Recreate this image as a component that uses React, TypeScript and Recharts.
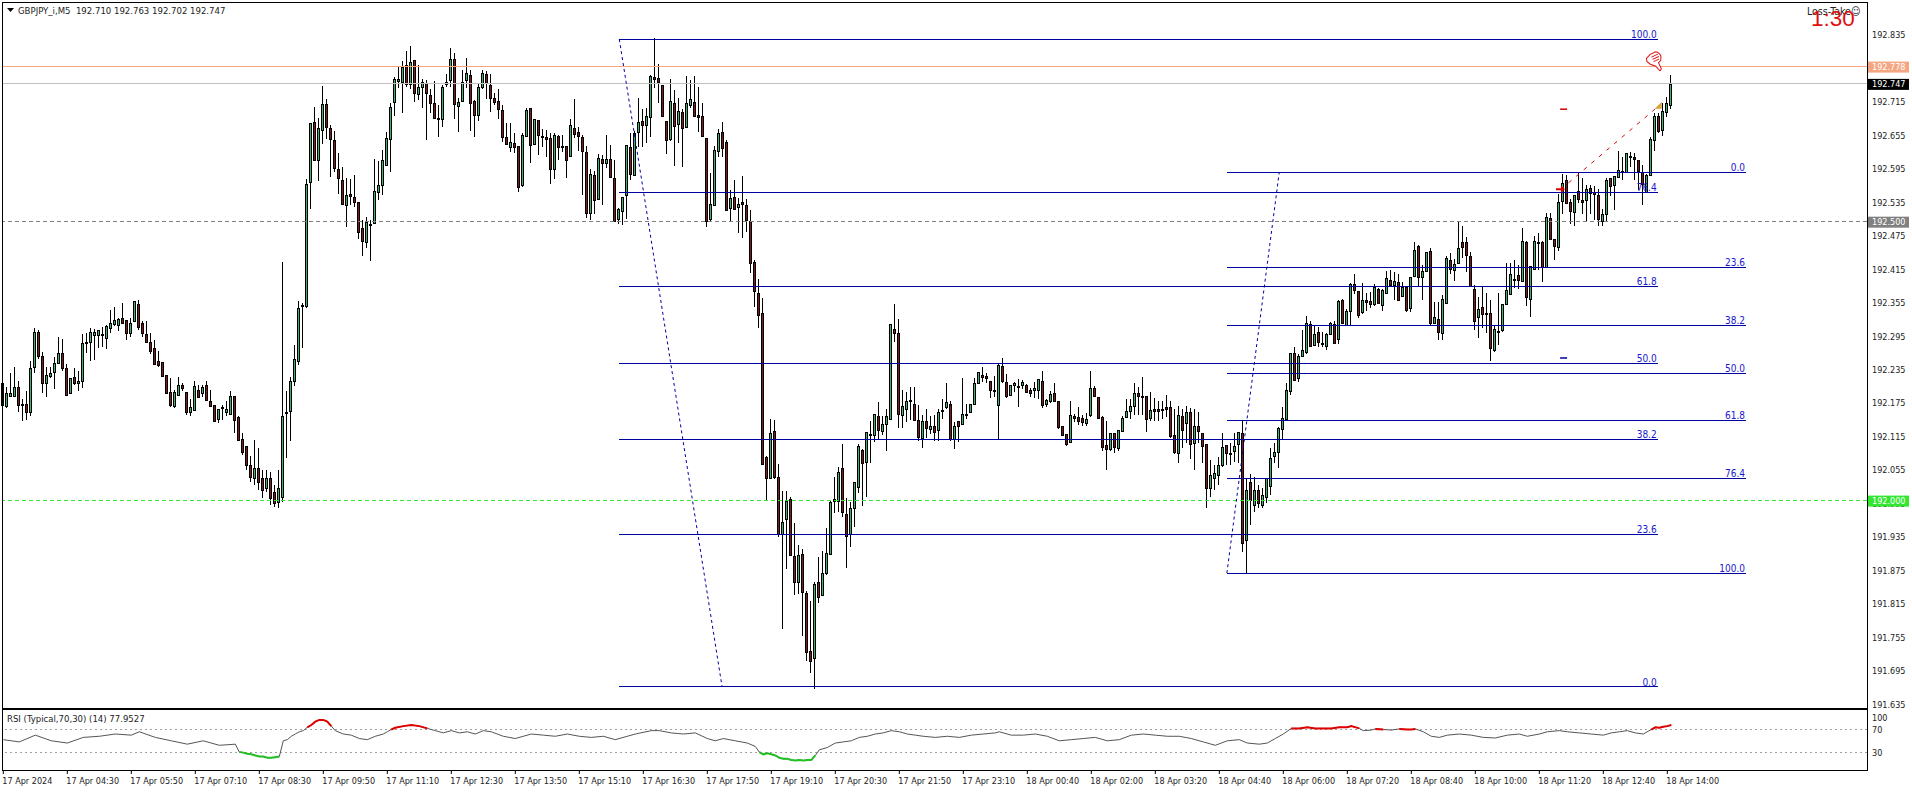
import React from 'react';
import { ComposedChart, Bar, Line, XAxis, YAxis, ReferenceLine, ReferenceDot } from 'recharts';

// Candle rows: [open, high, low, close], in points above 192.000 (1 point = 0.001)
const barsEarly = [[210,219,150,171],[170,203,166,192],[188,228,185,192],[188,239,188,203],[203,214,158,172],[174,183,143,171],[173,196,144,159],[158,251,152,237],[239,309,229,302],[303,306,254,260],[259,266,192,211],[210,239,185,225],[224,239,219,228],[231,257,199,246],[247,293,245,264],[264,290,233,237],[237,244,188,189],[192,220,191,219],[221,237,206,211],[210,232,197,214],[214,299,202,282],[284,300,265,283],[284,309,249,303],[297,307,252,303],[297,306,274,305],[298,311,276,296],[291,315,272,313],[310,342,301,318],[317,347,313,323],[314,328,305,325],[328,354,316,318],[323,323,288,301],[300,328,294,319],[322,357,320,357],[352,359,305,312],[318,322,294,301],[298,322,285,285],[284,300,263,269],[273,287,244,245],[251,268,240,243],[248,248,222,223],[225,225,192,193],[194,219,167,172],[170,199,167,194],[189,221,189,207],[207,210,195,201],[194,194,152,158],[159,183,152,167],[163,214,161,205],[199,207,185,186],[192,207,185,203],[207,214,181,181],[178,198,168,170],[171,171,142,142],[147,165,140,164],[167,171,145,167],[159,178,152,164],[155,196,155,187],[187,187,120,144],[149,151,108,109]];
const barsMorning = [[110,121,82,87],[98,98,55,64],[64,80,33,42],[40,109,28,58],[58,94,19,33],[40,55,5,19],[23,55,16,40],[40,51,-8,5],[15,28,-12,-5],[-3,55,-13,23],[6,428,-3,152],[157,196,76,158],[161,221,107,214],[214,279,205,254],[250,358,243,345],[351,354,273,351],[349,576,345,567],[571,677,522,677],[679,705,611,611],[611,686,573,668],[664,743,639,711],[711,720,648,670],[668,673,580,648],[646,662,589,596],[594,623,549,578],[575,598,530,532],[530,578,490,548],[550,576,530,546],[544,584,526,535],[535,535,469,481],[488,503,438,465],[463,508,453,499],[496,503,429,494],[497,612,497,555],[553,609,539,565],[565,628,548,611],[601,661,600,650],[648,712,589,705],[714,759,689,755],[752,777,739,755],[750,788,695,777],[781,806,741,747],[747,815,738,786],[790,790,714,730],[729,781,718,741],[741,755,703,750],[748,754,646,730],[727,738,695,712],[712,752,684,686],[686,709,651,686],[684,745,669,741],[747,764,741,750],[754,811,741,791],[791,802,684,711],[707,721,660,714],[716,772,714,750],[754,793,739,766],[763,772,662,712],[716,718,651,691],[691,748,680,741]];
const barsMidday = [[741,772,738,766],[764,770,720,748],[745,764,696,721],[721,730,709,714],[716,738,684,702],[700,709,643,652],[652,677,637,639],[634,677,625,643],[641,659,623,634],[635,635,553,562],[565,659,562,655],[653,703,651,700],[703,703,605,637],[639,684,637,684],[682,682,619,655],[653,666,634,653],[652,664,616,648],[650,659,567,594],[594,659,576,655],[653,655,611,634],[635,655,625,635],[635,635,578,610],[618,684,616,673],[668,720,650,657],[661,670,627,653],[652,655,548,627],[625,635,506,515],[515,594,503,585],[583,591,514,539],[541,621,539,614],[612,619,530,605],[605,655,596,612],[612,637,578,580],[578,610,499,501],[505,524,496,523],[519,544,494,544],[548,637,505,637],[634,659,575,585],[583,662,582,659],[661,722,634,679],[680,702,634,673],[673,703,641,689],[687,763,652,761],[759,829,739,755],[757,782,712,750],[745,745,687,689],[680,680,621,646],[648,755,643,716],[712,736,600,671],[675,722,641,698],[696,702,598,668],[670,761,668,712],[709,754,703,720],[714,761,687,689],[691,741,660,687],[689,712,651,653]];
const barsDrop = [[650,650,490,501],[505,587,501,532],[530,635,528,628],[627,666,616,659],[661,678,616,632],[643,646,519,521],[524,557,501,542],[544,574,521,523],[526,542,480,532],[535,582,471,532],[530,541,481,503],[501,521,408,426],[428,431,347,376],[372,397,309,333],[336,363,66,66],[78,80,1,40],[40,146,40,121],[125,145,40,42],[42,66,-64,-60],[-60,17,-230,-38],[-33,17,-123,-1],[3,6,-98,-98],[-99,-40,-169,-146],[-146,-80,-167,-98],[-96,-87,-243,-164],[-166,-162,-287,-271],[-270,-180,-309,-287],[-282,-146,-338,-149],[-146,-101,-184,-173],[-169,-90,-169,-130],[-130,-49,-133,-94],[-96,-1,-98,-3],[-1,42,-22,3],[-1,60,-20,51],[58,101,-29,-20],[-24,5,-121,-64],[-60,-3,-83,-13],[-13,33,-47,33],[24,101,14,98],[91,93,-10,67],[69,123,6,123],[119,143,67,119],[118,155,105,155],[152,177,109,127],[125,152,118,137],[137,164,89,152],[146,317,145,317],[308,352,284,300],[300,326,130,155],[153,198,130,170]];
const barsNight = [[164,195,141,179],[180,204,145,179],[173,204,143,145],[145,171,107,114],[112,153,93,143],[143,164,112,130],[128,152,119,134],[134,153,107,123],[127,164,107,159],[161,182,146,162],[168,211,164,177],[173,179,107,111],[111,141,93,134],[143,143,105,134],[137,220,136,155],[155,173,146,155],[159,173,157,173],[173,220,173,211],[211,231,209,231],[225,240,213,222],[224,229,211,220],[214,214,184,198],[198,224,186,196],[171,245,110,243],[241,256,211,214],[212,227,184,187],[189,207,187,207],[207,213,195,211],[205,218,168,205],[207,216,200,213],[207,209,193,195],[198,202,186,193],[198,213,184,202],[198,218,182,218],[214,232,166,171],[173,182,168,180],[179,196,175,191],[193,211,177,179],[179,179,128,132],[134,134,116,118],[119,119,98,101],[105,179,103,153],[152,155,141,148],[150,168,136,143],[148,153,134,141],[139,157,134,146],[153,232,150,202],[202,205,186,188],[186,186,146,148],[150,152,89,96],[100,143,55,93],[93,121,89,121],[121,121,85,96],[94,127,89,127],[125,152,123,148],[150,182,148,161],[161,182,146,170],[170,211,153,193],[193,204,153,187],[187,221,153,187],[187,187,123,146],[148,195,143,162],[164,184,143,161],[164,179,143,161],[164,179,146,162],[168,189,150,164],[168,179,112,116],[118,164,83,87],[85,170,67,153],[152,164,94,127],[139,170,103,159],[159,166,75,102],[103,164,55,134],[134,159,103,125],[121,121,67,98],[102,102,-12,23],[23,73,6,46],[40,64,19,49],[46,78,28,64],[64,121,60,96],[100,100,64,85],[85,103,64,85],[89,121,69,98],[102,123,67,123],[121,143,-92,-76],[-71,40,-130,19],[33,48,-44,1],[-8,42,-20,19],[19,28,-13,-4],[-8,23,-13,10],[6,40,-4,40],[26,94,10,76]];
const barsRecovery = [[80,103,67,87],[87,132,59,130],[128,168,109,148],[146,211,145,198],[196,264,189,264],[264,275,216,216],[220,263,213,259],[259,306,257,270],[266,331,263,318],[317,322,275,277],[279,313,277,299],[302,311,275,284],[282,302,275,282],[277,300,270,299],[299,320,297,318],[317,322,281,282],[290,360,282,358],[360,361,317,318],[315,343,315,340],[340,390,315,388],[388,406,370,377],[376,376,327,333],[338,390,334,360],[360,372,340,356],[358,374,345,352],[352,388,349,383],[379,381,352,354],[351,379,340,378],[372,412,370,399],[395,413,386,386],[386,410,360,393],[392,406,358,360],[367,392,365,383],[383,383,338,342],[345,401,338,401],[402,463,401,449],[456,458,383,401],[401,422,360,412],[412,446,410,446],[447,453,313,318]];
const barsLate = [[318,356,317,329],[325,356,288,302],[300,368,288,361],[354,438,352,435],[431,444,406,415],[413,433,394,424],[426,499,424,453],[463,492,435,455],[463,472,410,440],[438,445,383,385],[379,386,306,322],[329,365,291,343],[347,383,309,334],[336,372,300,336],[336,360,250,273],[270,315,266,308],[304,372,279,304],[306,352,302,352],[352,426,351,378],[370,426,369,406],[397,431,381,397],[404,422,379,395],[394,488,392,465],[463,465,349,365],[361,420,329,420],[415,474,413,465],[463,480,413,463],[463,465,392,419],[419,515,417,508],[506,515,467,469],[469,469,431,456],[455,549,447,535],[537,585,514,569],[575,584,532,533],[535,541,496,519],[517,548,492,548],[555,589,533,541],[539,578,514,535],[539,566,499,558],[560,566,514,551],[553,564,503,549],[548,558,492,505],[501,523,492,514],[514,578,501,575],[578,578,546,564],[566,582,521,582],[580,627,578,593],[591,616,575,591],[589,623,589,623],[618,625,598,618],[616,623,575,612],[611,611,557,591],[589,601,530,567],[553,585,551,584],[583,652,582,648],[646,695,626,689],[689,695,660,662],[664,712,652,698],[696,723,687,712],[710,763,702,747]];

const priceTicks = [192.835, 192.715, 192.655, 192.595, 192.535, 192.475, 192.415, 192.355, 192.295, 192.235, 192.175, 192.115, 192.055, 191.995, 191.935, 191.875, 191.815, 191.755, 191.695, 191.635];
const tagPrices = [192.778, 192.747, 192.5, 192.0];
const tagLabels = ['192.778', '192.747', '192.500', '192.000'];
const tagColors = ['#F4A582', '#000000', '#808080', '#32E632'];
const timeLabels = ['17 Apr 2024', '17 Apr 04:30', '17 Apr 05:50', '17 Apr 07:10', '17 Apr 08:30', '17 Apr 09:50', '17 Apr 11:10', '17 Apr 12:30', '17 Apr 13:50', '17 Apr 15:10', '17 Apr 16:30', '17 Apr 17:50', '17 Apr 19:10', '17 Apr 20:30', '17 Apr 21:50', '17 Apr 23:10', '18 Apr 00:40', '18 Apr 02:00', '18 Apr 03:20', '18 Apr 04:40', '18 Apr 06:00', '18 Apr 07:20', '18 Apr 08:40', '18 Apr 10:00', '18 Apr 11:20', '18 Apr 12:40', '18 Apr 14:00'];

const fibDownPrices = [192.827, 192.553, 192.384, 192.246, 192.11, 191.94, 191.666];
const fibDownLabels = ['100.0', '76.4', '61.8', '50.0', '38.2', '23.6', '0.0'];
const fibDownBars = [154, 413.6];
const fibUpPrices = [192.589, 192.418, 192.314, 192.228, 192.144, 192.04, 191.87];
const fibUpLabels = ['0.0', '23.6', '38.2', '50.0', '61.8', '76.4', '100.0'];
const fibUpBars = [305.9, 435.7];
const trendDown = [{ x: 154, y: 192.827 }, { x: 179.7, y: 191.666 }];
const trendUp = [{ x: 305.9, y: 191.87 }, { x: 319, y: 192.589 }];
const tradeLine = [{ x: 389.4, y: 192.558 }, { x: 413.6, y: 192.706 }];

// RSI readings at selected bars
const rsiBars = [0,4,8,12,16,20,24,28,32,34,38,42,46,50,54,58,59,60,61,62,63,64,65,66,67,68,69,70,71,72,73,74,75,76,77,78,79,80,81,82,83,85,87,89,91,93,95,96,97,98,100,102,104,106,108,110,112,114,116,118,120,122,125,128,130,132,135,138,141,144,147,150,153,156,158,162,164,167,170,173,176,178,180,183,186,188,189,190,191,192,193,194,195,196,197,198,199,200,201,202,203,204,206,208,210,212,214,216,218,220,222,224,226,228,230,233,236,239,242,245,248,249,252,255,258,261,264,267,270,273,276,279,282,285,288,291,294,297,300,303,306,309,311,314,316,318,320,322,324,326,328,330,332,334,336,337,339,340,342,343,345,347,349,351,352,353,355,357,359,361,364,367,370,373,376,379,381,384,386,389,391,394,397,400,402,404,406,408,410,412,413,414,415,416,417];
const rsiValues = [52,48,60,50,46,56,58,62,60,66,56,50,44,50,42,44,30,29,27,26,24,22,22,20,20,21,22,50,52,58,62,66,68,74,78,84,87,87,84,76,68,62,60,54,52,58,62,66,70,73,76,78,76,72,68,64,68,64,66,62,68,66,58,54,58,62,60,58,62,58,56,58,52,58,62,68,68,64,62,64,54,50,54,50,46,40,30,26,28,26,24,20,18,18,16,15,16,15,16,16,24,34,38,46,48,50,56,58,62,64,68,66,62,60,58,56,58,56,60,62,64,66,60,60,62,58,50,52,54,56,50,52,60,62,60,58,58,54,48,42,50,52,46,44,46,54,62,72,72,74,72,72,72,74,74,76,72,68,69,71,70,69,71,70,70,71,66,58,56,60,62,60,56,55,60,62,58,62,66,68,66,64,62,60,64,66,68,64,62,70,74,73,75,76,77.9527];
const rsiTicks = [100, 70, 30];
const rsiLevels = [70, 30];

const candles = [...barsEarly, ...barsMorning, ...barsMidday, ...barsDrop, ...barsNight, ...barsRecovery, ...barsLate].map(([o, h, l, c], i) => ({
  i, open: 192 + o / 1000, high: 192 + h / 1000, low: 192 + l / 1000, close: 192 + c / 1000,
}));
const rsiRows = rsiBars.map((i, k) => {
  const v = rsiValues[k];
  return { i, rsi: v, over: v >= 70 ? v : null, under: v <= 30 ? v : null };
});

const FONT = '"DejaVu Sans Condensed", "DejaVu Sans", sans-serif';
const BLUE = '#0000A0';

function Candle(props: any) {
  const { x, y, width, height, payload } = props;
  const cx = Math.floor(x + width / 2);
  const k = height / (payload.high - payload.low);
  const yo = y + (payload.high - payload.open) * k;
  const yc = y + (payload.high - payload.close) * k;
  const top = Math.round(Math.min(yo, yc)) + 0.5;
  const bottom = Math.round(Math.max(yo, yc)) + 0.5;
  const up = payload.close >= payload.open;
  return (
    <g shapeRendering="crispEdges">
      <rect x={cx} y={Math.round(y)} width={1} height={Math.max(1, Math.round(height))} fill="#000" />
      <rect x={cx - 0.5} y={top} width={2} height={Math.max(1, bottom - top)} fill={up ? '#3CB371' : '#7B1C1C'} stroke="#000" strokeWidth={1} />
    </g>
  );
}

function PriceTick(props: any) {
  const { y, payload } = props;
  const t = tagPrices.indexOf(payload.value);
  if (t >= 0) {
    return (
      <g>
        <rect x={1868} y={y - 5} width={41} height={11} fill={tagColors[t]} />
        <text x={1872} y={y + 3.5} fontSize={9} fontFamily={FONT} fill="#fff">{tagLabels[t]}</text>
      </g>
    );
  }
  return <text x={1872} y={y + 3.5} fontSize={9} fontFamily={FONT} fill="#222">{payload.value.toFixed(3)}</text>;
}

function RsiTick(props: any) {
  const { y, payload } = props;
  return <text x={1872} y={y + (payload.value === 100 ? 8 : 3.5)} fontSize={9} fontFamily={FONT} fill="#222">{payload.value}</text>;
}

function TimeTick(props: any) {
  const { x, payload } = props;
  return (
    <g>
      <line x1={x} x2={x} y1={60} y2={64} stroke="#000" />
      <text x={x - 1} y={74} fontSize={9} fontFamily={FONT} fill="#222">{timeLabels[payload.value / 16]}</text>
    </g>
  );
}

const Thumb = (p: any) => (
  <g transform={`translate(${p.cx - 8},${p.cy - 10}) rotate(-25 8 10)`} fill="#fff" stroke="#E01010" strokeWidth={1}>
    <path d="M2 3 L7 1 L13 1 Q16 3 16 7 L14 11 L11 12 L11 19 L9 20 L7 14 L3 10 L1 6 Z" />
    <path d="M7 4 L14 4 M7 6.5 L14 6.5 M7 9 L13 9" fill="none" />
  </g>
);
const GoldTriangle = (p: any) => <path d={`M${p.cx + 4} ${p.cy - 5} L${p.cx + 4} ${p.cy + 2} L${p.cx - 3} ${p.cy + 2} Z`} fill="#D4A63A" />;
const RedArrow = (p: any) => <path d={`M${p.cx - 5} ${p.cy - 1} H${p.cx} V${p.cy - 4} L${p.cx + 4} ${p.cy} L${p.cx} ${p.cy + 4} V${p.cy + 1} H${p.cx - 5} Z`} fill="#E00000" />;
const RedDash = (p: any) => <rect x={p.cx - 4} y={p.cy} width={7} height={1.5} fill="#D00000" />;
const BlueDash = (p: any) => <rect x={p.cx - 4} y={p.cy} width={7} height={1.5} fill={BLUE} />;

function fibLines(prices: number[], labels: string[], span: number[]) {
  return prices.map((p, k) => (
    <ReferenceLine
      key={`${span[0]}-${k}`}
      segment={[{ x: span[0], y: p }, { x: span[1], y: p }]}
      stroke={BLUE}
      strokeWidth={1}
      shapeRendering="crispEdges"
      label={{ value: labels[k], position: 'insideBottomRight', offset: 1, fill: '#1818D0', fontSize: 10, fontFamily: FONT }}
    />
  ));
}

export default function App() {
  return (
    <div style={{ position: 'absolute', left: 0, top: 0, width: 1912, height: 792, background: '#fff', overflow: 'hidden' }}>
      <div style={{ position: 'absolute', left: 0, top: 0 }}>
        <ComposedChart width={1912} height={708} data={candles} margin={{ top: 3, right: 0, bottom: 1, left: 3 }}>
          <XAxis dataKey="i" type="number" domain={[-0.075, 465.925]} hide />
          <YAxis orientation="right" width={45} domain={[191.63, 192.892]} ticks={[...priceTicks, ...tagPrices]} interval={0} axisLine={false} tickLine={false} tick={(p: any) => <PriceTick {...p} />} allowDataOverflow />
          <ReferenceLine y={192.778} stroke="#F4A582" shapeRendering="crispEdges" />
          <ReferenceLine y={192.747} stroke="#C0C0C0" shapeRendering="crispEdges" />
          <ReferenceLine y={192.5} stroke="#808080" strokeDasharray="4 3" shapeRendering="crispEdges" />
          <ReferenceLine y={192.0} stroke="#32E632" strokeDasharray="4 3" shapeRendering="crispEdges" />
          <Bar dataKey={(d: any) => [d.low, d.high]} barSize={3} shape={(p: any) => <Candle {...p} />} isAnimationActive={false} />
          {fibLines(fibDownPrices, fibDownLabels, fibDownBars)}
          {fibLines(fibUpPrices, fibUpLabels, fibUpBars)}
          <ReferenceLine segment={trendDown} stroke={BLUE} strokeDasharray="3 3" />
          <ReferenceLine segment={trendUp} stroke={BLUE} strokeDasharray="3 3" />
          <ReferenceLine segment={tradeLine} stroke="#D01010" strokeDasharray="4 6" />
          <ReferenceDot x={389.4} y={192.558} r={1} shape={RedArrow} />
          <ReferenceDot x={413.6} y={192.706} r={1} shape={GoldTriangle} />
          <ReferenceDot x={390.2} y={192.703} r={1} shape={RedDash} />
          <ReferenceDot x={390.2} y={192.257} r={1} shape={BlueDash} />
          <ReferenceDot x={412.9} y={192.786} r={1} shape={Thumb} />
        </ComposedChart>
      </div>
      <div style={{ position: 'absolute', left: 0, top: 710 }}>
        <ComposedChart width={1912} height={82} data={rsiRows} margin={{ top: 0, right: 0, bottom: 0, left: 3 }}>
          <XAxis dataKey="i" type="number" domain={[-0.075, 465.925]} ticks={timeLabels.map((_, k) => k * 16)} interval={0} height={22} axisLine={false} tickLine={false} tick={(p: any) => <TimeTick {...p} />} />
          <YAxis orientation="right" width={45} domain={[-1.8, 104.6]} ticks={rsiTicks} interval={0} axisLine={false} tickLine={false} tick={(p: any) => <RsiTick {...p} />} />
          {rsiLevels.map((v) => <ReferenceLine key={v} y={v} stroke="#A0A0A0" strokeDasharray="2 3" shapeRendering="crispEdges" />)}
          <Line dataKey="rsi" stroke="#555555" strokeWidth={1} dot={false} isAnimationActive={false} />
          <Line dataKey="over" stroke="#E00000" strokeWidth={2} dot={false} isAnimationActive={false} />
          <Line dataKey="under" stroke="#22C022" strokeWidth={2} dot={false} isAnimationActive={false} />
        </ComposedChart>
      </div>
      <div style={{ position: 'absolute', left: 2, top: 2, width: 1864, height: 705, border: '1px solid #000', pointerEvents: 'none' }} />
      <div style={{ position: 'absolute', left: 2, top: 709, width: 1864, height: 60, border: '1px solid #000', pointerEvents: 'none' }} />
      <svg style={{ position: 'absolute', left: 7, top: 8 }} width={8} height={6}><path d="M0 0 H7 L3.5 4 Z" fill="#000" /></svg>
      <div style={{ position: 'absolute', left: 18, top: 5, font: `9.5px ${FONT}`, color: '#222', whiteSpace: 'pre' }}>GBPJPY_i,M5  192.710 192.763 192.702 192.747</div>
      <div style={{ position: 'absolute', left: 7, top: 713, font: `9.5px ${FONT}`, color: '#222', whiteSpace: 'pre' }}>RSI (Typical,70,30) (14) 77.9527</div>
      <div style={{ position: 'absolute', left: 1807, top: 5, font: `10.5px ${FONT}`, color: '#222', whiteSpace: 'pre' }}>Loss-Take☺</div>
      <div style={{ position: 'absolute', left: 1811, top: 6, font: '22.5px "Liberation Sans", sans-serif', color: '#E01010', whiteSpace: 'pre' }}>1:30</div>
    </div>
  );
}
